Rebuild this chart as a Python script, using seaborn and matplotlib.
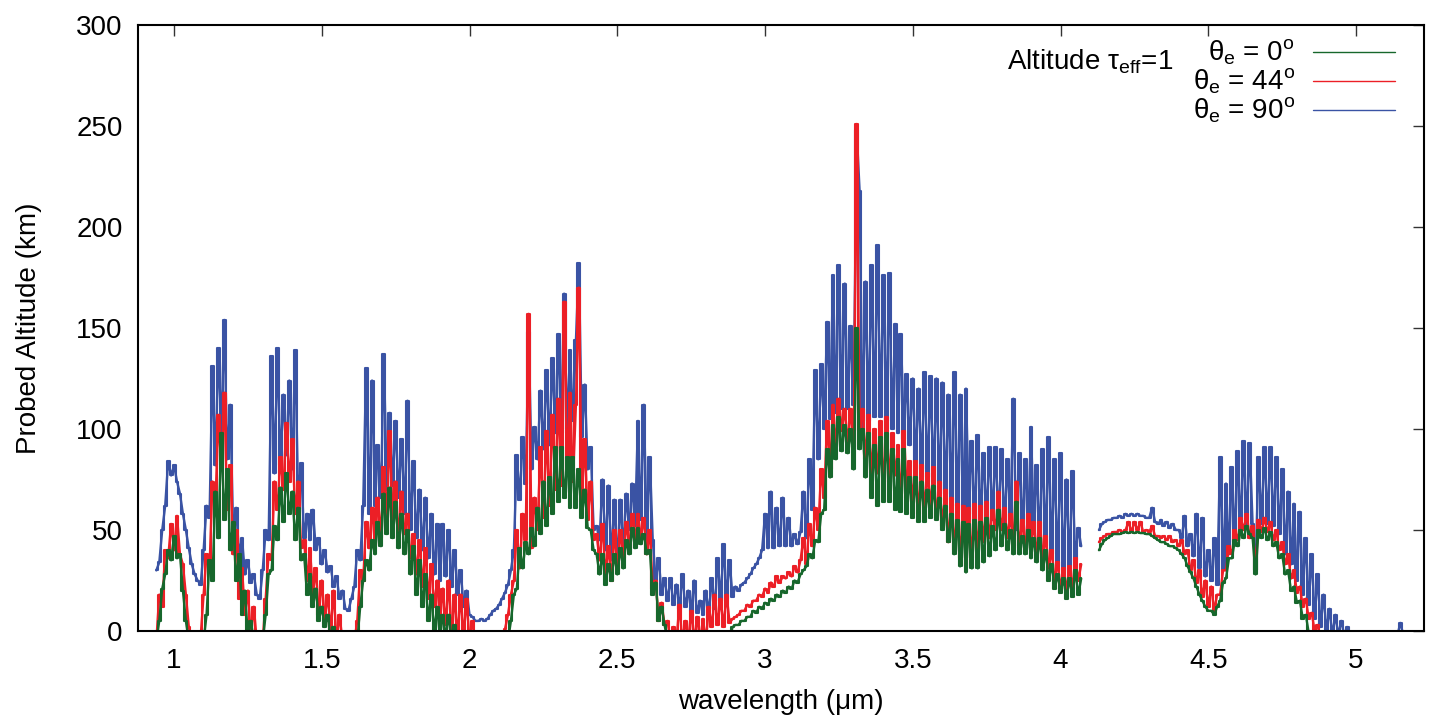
import numpy as np
import pandas as pd
import matplotlib
matplotlib.use('Agg')
import matplotlib.pyplot as plt
import seaborn as sns

N = np.nan

# wavelength grid of the sampled spectra (um), 0.90 ... 5.29
wavelength = np.round(np.arange(0.90, 5.295, 0.01), 2)

# probed altitude (km), one row per 0.1 um; values < 0 fall below the axis
alt_90 = [
    N, N, N, N, 30, 34, 50, 62, 84, 77,
    82, 74, 68, 58, 50, 41, 33, 28, 25, 23,
    40, 62, 56, 131, 82, 140, 99, 154, 85, 112,
    50, 61, 38, 46, 28, 35, 24, 28, 18, 16,
    30, 50, 45, 136, 78, 140, 82, 117, 87, 124,
    80, 139, 66, 83, 46, 58, 45, 60, 40, 46,
    33, 40, 29, 32, 22, 27, 16, 20, 11, 10,
    16, 22, 40, 35, 62, 130, 58, 124, 62, 92,
    66, 137, 70, 108, 72, 104, 66, 95, 58, 114,
    50, 84, 46, 70, 40, 66, 36, 58, 28, 53,
    25, 53, 27, 50, 22, 40, 18, 30, 12, 20,
    8, 7, 5, 5, 6, 5, 6, 8, 10, 11,
    13, 16, 19, 23, 30, 40, 87, 65, 96, 73,
    148, 80, 101, 85, 119, 90, 129, 92, 135, 98,
    147, 98, 167, 100, 139, 104, 144, 182, 96, 122,
    80, 91, 50, 52, 45, 75, 40, 72, 35, 65,
    33, 65, 40, 68, 50, 73, 52, 104, 55, 112,
    45, 86, 45, 25, 36, 18, 26, 15, 26, 13,
    23, 11, 28, 12, 20, 10, 25, 9, 15, 8,
    20, 9, 26, 11, 36, 15, 43, 16, 35, 17,
    22, 20, 23, 24, 26, 28, 31, 33, 36, 40,
    58, 41, 69, 41, 61, 42, 66, 42, 56, 42,
    48, 43, 49, 69, 46, 85, 60, 129, 85, 132,
    100, 153, 105, 176, 108, 181, 110, 172, 110, 151,
    112, 248, 218, 100, 173, 104, 181, 106, 191, 106,
    176, 104, 177, 100, 152, 98, 147, 95, 127, 92,
    125, 84, 120, 80, 128, 76, 126, 74, 125, 70,
    123, 68, 117, 65, 128, 62, 117, 60, 120, 58,
    94, 55, 97, 55, 88, 56, 91, 55, 91, 54,
    90, 52, 85, 52, 115, 50, 88, 50, 85, 48,
    101, 48, 82, 45, 90, 42, 96, 38, 85, 32,
    88, 30, 75, 32, 79, 35, 51, 42, N, N,
    N, N, N, 50, 53, 54, 55, 55, 56, 56,
    57, 56, 58, 57, 58, 57, 58, 57, 57, 56,
    56, 61, 54, 53, 55, 52, 54, 51, 53, 50,
    50, 46, 57, 42, 48, 37, 58, 31, 56, 27,
    40, 25, 46, 23, 86, 30, 73, 38, 81, 44,
    89, 50, 94, 52, 93, 53, 30, 86, 53, 91,
    53, 91, 52, 86, 48, 80, 38, 69, 33, 63,
    25, 59, 18, 46, 13, 38, 6, 28, 2, 18,
    0, 11, -2, 8, -2, 5, -2, 2, -2, -2,
    -2, -2, -2, -2, -2, -2, -2, -2, -2, -2,
    -2, -2, -2, -2, -2, 4, -2, -2, -2, -2,
    -2, -2, N, N, N, N, N, N, N, N,
]

alt_44 = [
    N, N, N, N, -5, 18, 12, 40, 36, 53,
    40, 57, 38, 33, 18, 2, -5, -5, -5, -3,
    18, 38, 31, 74, 62, 107, 80, 118, 60, 82,
    38, 50, 16, 31, 8, 20, -3, 12, -5, -5,
    -5, 16, 38, 35, 74, 60, 86, 70, 103, 74,
    95, 58, 74, 41, 45, 25, 41, 18, 31, 8,
    25, 6, 18, 0, 20, -5, 8, -5, -5, -5,
    -5, -5, 5, 30, 25, 54, 41, 61, 42, 66,
    46, 81, 56, 99, 54, 74, 45, 69, 48, 58,
    36, 48, 28, 45, 22, 41, 16, 33, 12, 25,
    5, 21, 3, 25, -3, 18, -3, 18, -3, 16,
    -5, 5, -5, -5, -5, -5, -5, -5, -5, -5,
    -5, -5, 1, 8, 18, 25, 50, 31, 58, 45,
    157, 41, 66, 50, 91, 56, 99, 62, 107, 70,
    115, 72, 163, 78, 118, 74, 112, 170, 64, 95,
    55, 74, 45, 48, 35, 53, 28, 42, 25, 50,
    30, 50, 36, 54, 41, 58, 45, 58, 46, 56,
    38, 50, 21, 25, 5, 14, 3, 5, -5, 2,
    -5, 13, -5, 5, -5, 10, -5, 7, -5, 6,
    -5, 12, 2, 18, 3, 16, 2, 18, 4, 6,
    7, 8, 10, 10, 13, 12, 15, 15, 18, 17,
    21, 19, 24, 22, 27, 24, 27, 26, 29, 27,
    32, 29, 35, 46, 33, 53, 42, 61, 50, 80,
    66, 104, 80, 112, 91, 115, 99, 110, 93, 110,
    91, 251, 99, 110, 85, 107, 78, 100, 78, 104,
    70, 106, 74, 98, 77, 92, 66, 99, 68, 84,
    64, 84, 58, 82, 61, 78, 62, 81, 56, 74,
    52, 70, 44, 66, 40, 63, 36, 62, 32, 61,
    36, 63, 40, 62, 44, 64, 46, 60, 50, 69,
    50, 61, 46, 58, 42, 74, 41, 55, 40, 58,
    41, 54, 37, 54, 36, 47, 31, 40, 25, 34,
    21, 31, 20, 32, 21, 36, 25, 33, N, N,
    N, N, N, 44, 46, 47, 48, 48, 49, 49,
    50, 49, 50, 54, 49, 54, 50, 54, 49, 50,
    49, 52, 47, 47, 46, 47, 45, 47, 44, 45,
    42, 45, 38, 40, 30, 35, 24, 30, 17, 25,
    12, 22, 10, 18, 18, 30, 30, 42, 38, 50,
    45, 56, 50, 58, 46, 52, 30, 55, 49, 56,
    49, 54, 45, 50, 40, 44, 33, 38, 26, 30,
    19, 22, 12, 16, 6, 9, 0, 3, -5, -5,
    -5, -5, -5, -5, -5, -5, -5, -5, -5, -5,
    -5, -5, -5, -5, -5, -5, -5, -5, -5, -5,
    -5, -5, -5, -5, -5, -5, -5, -5, -5, -5,
    -5, -5, N, N, N, N, N, N, N, N,
]

alt_0 = [
    N, N, N, N, -5, 5, 21, 28, 40, 35,
    47, 36, 38, 20, 5, -5, -5, -5, -5, -5,
    -5, 8, 35, 25, 69, 46, 98, 55, 80, 40,
    54, 25, 38, 8, 20, -3, 5, -5, -5, -5,
    -5, 8, 28, 30, 52, 45, 71, 54, 78, 58,
    69, 45, 61, 35, 38, 18, 28, 12, 21, 5,
    12, 2, 8, -5, 2, -5, -5, -5, -5, -5,
    -5, -5, -5, 12, 25, 35, 30, 45, 38, 54,
    42, 68, 48, 71, 46, 64, 41, 58, 38, 50,
    28, 42, 18, 35, 12, 28, 5, 18, 0, 12,
    -3, 8, -3, 8, -5, 3, -5, -5, -5, -5,
    -5, -5, -5, -5, -5, -5, -5, -5, -5, -5,
    -5, -5, -5, -5, 5, 18, 21, 41, 31, 44,
    38, 51, 42, 61, 48, 74, 52, 76, 58, 91,
    64, 91, 66, 86, 61, 86, 61, 80, 56, 70,
    51, 50, 40, 38, 28, 38, 23, 33, 25, 38,
    28, 41, 31, 45, 38, 51, 41, 51, 43, 48,
    38, 40, 18, 24, 5, 12, 3, -5, -5, -5,
    -5, -5, -5, -5, -5, -5, -5, -5, -5, -5,
    -5, -5, -5, -5, -5, -5, -5, -5, -5, 2,
    3, 3, 5, 5, 7, 7, 10, 9, 12, 11,
    14, 13, 16, 15, 18, 17, 20, 19, 22, 21,
    25, 24, 28, 30, 32, 38, 36, 45, 44, 58,
    60, 90, 76, 102, 85, 106, 89, 102, 88, 100,
    80, 150, 90, 100, 76, 98, 66, 92, 62, 96,
    64, 98, 64, 90, 60, 85, 59, 90, 58, 76,
    56, 76, 54, 74, 54, 70, 56, 72, 55, 66,
    50, 62, 44, 58, 38, 55, 32, 54, 29, 53,
    31, 55, 31, 54, 34, 56, 37, 52, 40, 60,
    42, 53, 40, 50, 38, 64, 38, 47, 38, 50,
    36, 46, 34, 46, 30, 40, 25, 33, 21, 28,
    19, 26, 16, 26, 17, 30, 18, 26, N, N,
    N, N, N, 40, 43, 45, 46, 47, 48, 48,
    48, 48.5, 49, 48.5, 49, 48.5, 49, 48.5, 48.5, 48,
    48, 47, 46, 45, 44, 44, 43, 42, 42, 41,
    40, 38, 36, 32, 29, 26, 22, 18, 15, 12,
    10, 10, 8, 12, 15, 24, 26, 36, 36, 45,
    42, 50, 46, 52, 48, 46, 28, 50, 46, 51,
    45, 49, 42, 44, 36, 38, 28, 30, 20, 22,
    14, 15, 6, 8, -1, -5, -5, -5, -5, -5,
    -5, -5, -5, -5, -5, -5, -5, -5, -5, -5,
    -5, -5, -5, -5, -5, -5, -5, -5, -5, -5,
    -5, -5, -5, -5, -5, -5, -5, -5, -5, -5,
    -5, -5, N, N, N, N, N, N, N, N,
]

legend_labels = {
    '0': r'θ$_{\mathrm{e}}$ = 0$^{\mathrm{o}}$',
    '44': r'θ$_{\mathrm{e}}$ = 44$^{\mathrm{o}}$',
    '90': r'θ$_{\mathrm{e}}$ = 90$^{\mathrm{o}}$',
}
colors = {'0': '#17672c', '44': '#ec1f26', '90': '#3a53a4'}

xticks = [1, 1.5, 2, 2.5, 3, 3.5, 4, 4.5, 5]
xtick_labels = ['1', '1.5', '2', '2.5', '3', '3.5', '4', '4.5', '5']
yticks = [0, 50, 100, 150, 200, 250, 300]

# long table, the spectra are split at the 4.08-4.12 um gap
frames = []
for ang, vals in [('90', alt_90), ('44', alt_44), ('0', alt_0)]:
    d = pd.DataFrame({'wavelength': wavelength, 'altitude': vals})
    d['angle'] = ang
    d['segment'] = (d['wavelength'] > 4.1).astype(int)
    frames.append(d.dropna())
df = pd.concat(frames, ignore_index=True)

sns.set_theme(style='white')
plt.rcParams['font.family'] = ['Liberation Sans', 'DejaVu Sans']
plt.rcParams['mathtext.fontset'] = 'custom'
plt.rcParams['mathtext.rm'] = 'Liberation Sans'
plt.rcParams['mathtext.it'] = 'Liberation Sans:italic'
plt.rcParams['text.color'] = 'black'
plt.rcParams['axes.labelcolor'] = 'black'
plt.rcParams['xtick.color'] = 'black'
plt.rcParams['ytick.color'] = 'black'

W, H = 1429, 723
fig = plt.figure(figsize=(W / 100, H / 100), dpi=100)
x0, x1, ytop, ybot = 138, 1424, 25, 631
ax = fig.add_axes([x0 / W, (H - ybot) / H, (x1 - x0) / W, (ybot - ytop) / H])

# blue first, green last (on top); the stepped copy thickens the dense line forest
for ang in ['90', '44', '0']:
    sub = df[df['angle'] == ang]
    sns.lineplot(data=sub, x='wavelength', y='altitude', units='segment',
                 estimator=None, color=colors[ang], linewidth=1.7,
                 legend=False, ax=ax)
    sns.lineplot(data=sub, x='wavelength', y='altitude', units='segment',
                 estimator=None, color=colors[ang], linewidth=1.5,
                 drawstyle='steps-mid', legend=False, ax=ax)

ax.set_xlim(0.878, 5.23)
ax.set_ylim(0, 300)
ax.set_xticks(xticks)
ax.set_xticklabels(xtick_labels)
ax.set_yticks(yticks)
ax.tick_params(direction='in', length=8, width=1, top=True, right=True,
               labelsize=20, color='#333333', labelcolor='black')
ax.tick_params(axis='x', pad=12)
ax.tick_params(axis='y', pad=11)
for sp in ax.spines.values():
    sp.set_color('black')
    sp.set_linewidth(1.5)

ax.set_xlabel('wavelength (μm)', fontsize=20)
ax.set_ylabel('Probed Altitude (km)', fontsize=20)
ax.xaxis.set_label_coords(0.5, -0.095)
ax.yaxis.set_label_coords(-0.075, 0.5)

# key, gnuplot style: right-justified text then a sample line
def ax_x(px):
    return (px - x0) / (x1 - x0)

def ax_y(py):
    return (ybot - py) / (ybot - ytop)

ax.text(ax_x(1173), ax_y(62), r'Altitude τ$_{\mathrm{eff}}$=1', transform=ax.transAxes,
        ha='right', va='center', fontsize=20)
for ang, py in [('0', 52), ('44', 81), ('90', 110)]:
    ax.text(ax_x(1295), ax_y(py), legend_labels[ang], transform=ax.transAxes,
            ha='right', va='center', fontsize=20)
    ax.plot([ax_x(1313), ax_x(1395)], [ax_y(py), ax_y(py)], transform=ax.transAxes,
            color=colors[ang], linewidth=1.0)

fig.savefig('out.png', dpi=100)
